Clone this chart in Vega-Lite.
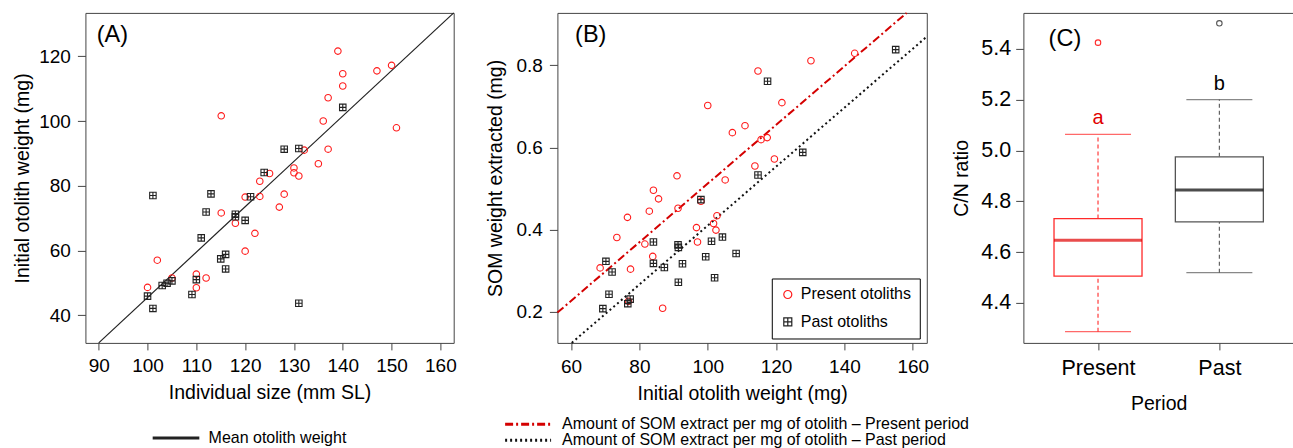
{
  "$schema": "https://vega.github.io/schema/vega-lite/v6.json",
  "padding": {"left": 11.4, "top": 7.9, "right": 0, "bottom": 0},
  "bounds": "flush",
  "spacing": 0,
  "background": "white",
  "config": {
    "font": "Liberation Sans",
    "view": {"stroke": "#444", "strokeWidth": 1},
    "axis": {
      "domain": false, "grid": false, "tickColor": "#444", "tickWidth": 1,
      "labelFont": "Liberation Sans", "labelFontSize": 19, "labelColor": "#000",
      "titleFont": "Liberation Sans", "titleFontSize": 19.5, "titleFontWeight": "normal", "titleColor": "#000",
      "labelFlush": false, "labelOverlap": false
    },
    "legend": {"labelFont": "Liberation Sans", "labelFontSize": 16, "labelColor": "#000", "labelLimit": 600}
  },
  "resolve": {
    "scale": {"color": "independent", "stroke": "independent", "shape": "independent", "strokeDash": "independent", "fill": "independent"},
    "legend": {"color": "independent", "stroke": "independent", "shape": "independent", "strokeDash": "independent", "fill": "independent"}
  },
  "datasets": {
    "a_pts": [
      {"size": 139.0, "weight": 121.6, "otolith": "Present otoliths"},
      {"size": 150.0, "weight": 117.2, "otolith": "Present otoliths"},
      {"size": 147.0, "weight": 115.5, "otolith": "Present otoliths"},
      {"size": 140.0, "weight": 114.6, "otolith": "Present otoliths"},
      {"size": 140.0, "weight": 110.8, "otolith": "Present otoliths"},
      {"size": 137.0, "weight": 107.2, "otolith": "Present otoliths"},
      {"size": 115.1, "weight": 101.6, "otolith": "Present otoliths"},
      {"size": 136.0, "weight": 100.0, "otolith": "Present otoliths"},
      {"size": 151.0, "weight": 97.9, "otolith": "Present otoliths"},
      {"size": 132.1, "weight": 91.0, "otolith": "Present otoliths"},
      {"size": 137.0, "weight": 91.3, "otolith": "Present otoliths"},
      {"size": 135.0, "weight": 86.8, "otolith": "Present otoliths"},
      {"size": 130.0, "weight": 85.5, "otolith": "Present otoliths"},
      {"size": 130.0, "weight": 84.0, "otolith": "Present otoliths"},
      {"size": 131.0, "weight": 83.0, "otolith": "Present otoliths"},
      {"size": 125.0, "weight": 83.8, "otolith": "Present otoliths"},
      {"size": 123.0, "weight": 81.4, "otolith": "Present otoliths"},
      {"size": 128.0, "weight": 77.4, "otolith": "Present otoliths"},
      {"size": 123.0, "weight": 76.7, "otolith": "Present otoliths"},
      {"size": 120.0, "weight": 76.5, "otolith": "Present otoliths"},
      {"size": 127.0, "weight": 73.4, "otolith": "Present otoliths"},
      {"size": 115.1, "weight": 71.6, "otolith": "Present otoliths"},
      {"size": 118.0, "weight": 68.4, "otolith": "Present otoliths"},
      {"size": 122.0, "weight": 65.3, "otolith": "Present otoliths"},
      {"size": 120.0, "weight": 59.8, "otolith": "Present otoliths"},
      {"size": 102.0, "weight": 57.0, "otolith": "Present otoliths"},
      {"size": 110.0, "weight": 52.7, "otolith": "Present otoliths"},
      {"size": 112.0, "weight": 51.5, "otolith": "Present otoliths"},
      {"size": 105.0, "weight": 51.5, "otolith": "Present otoliths"},
      {"size": 100.0, "weight": 48.6, "otolith": "Present otoliths"},
      {"size": 110.0, "weight": 48.5, "otolith": "Present otoliths"},
      {"size": 140.0, "weight": 104.2, "otolith": "Past otoliths"},
      {"size": 128.0, "weight": 91.3, "otolith": "Past otoliths"},
      {"size": 131.0, "weight": 91.5, "otolith": "Past otoliths"},
      {"size": 123.9, "weight": 84.1, "otolith": "Past otoliths"},
      {"size": 101.1, "weight": 77.0, "otolith": "Past otoliths"},
      {"size": 113.0, "weight": 77.5, "otolith": "Past otoliths"},
      {"size": 121.1, "weight": 76.6, "otolith": "Past otoliths"},
      {"size": 112.0, "weight": 71.9, "otolith": "Past otoliths"},
      {"size": 118.0, "weight": 71.2, "otolith": "Past otoliths"},
      {"size": 118.0, "weight": 70.4, "otolith": "Past otoliths"},
      {"size": 120.0, "weight": 69.3, "otolith": "Past otoliths"},
      {"size": 111.0, "weight": 63.9, "otolith": "Past otoliths"},
      {"size": 116.0, "weight": 58.8, "otolith": "Past otoliths"},
      {"size": 115.0, "weight": 57.4, "otolith": "Past otoliths"},
      {"size": 116.0, "weight": 54.3, "otolith": "Past otoliths"},
      {"size": 105.0, "weight": 50.6, "otolith": "Past otoliths"},
      {"size": 104.0, "weight": 49.9, "otolith": "Past otoliths"},
      {"size": 103.0, "weight": 49.2, "otolith": "Past otoliths"},
      {"size": 110.0, "weight": 51.0, "otolith": "Past otoliths"},
      {"size": 100.0, "weight": 45.9, "otolith": "Past otoliths"},
      {"size": 109.1, "weight": 46.4, "otolith": "Past otoliths"},
      {"size": 101.1, "weight": 42.1, "otolith": "Past otoliths"},
      {"size": 131.0, "weight": 43.7, "otolith": "Past otoliths"}
    ],
    "a_line": [
      {"size": 90, "weight": 31.45, "lt": "Mean otolith weight"},
      {"size": 162.73, "weight": 133.4, "lt": "Mean otolith weight"}
    ],
    "b_pts": [
      {"weight": 143.0, "som": 0.829, "otolith": "Present otoliths"},
      {"weight": 130.2, "som": 0.811, "otolith": "Present otoliths"},
      {"weight": 114.7, "som": 0.786, "otolith": "Present otoliths"},
      {"weight": 100.0, "som": 0.702, "otolith": "Present otoliths"},
      {"weight": 121.7, "som": 0.709, "otolith": "Present otoliths"},
      {"weight": 110.9, "som": 0.653, "otolith": "Present otoliths"},
      {"weight": 107.2, "som": 0.636, "otolith": "Present otoliths"},
      {"weight": 115.6, "som": 0.619, "otolith": "Present otoliths"},
      {"weight": 117.4, "som": 0.624, "otolith": "Present otoliths"},
      {"weight": 119.5, "som": 0.572, "otolith": "Present otoliths"},
      {"weight": 113.8, "som": 0.555, "otolith": "Present otoliths"},
      {"weight": 91.0, "som": 0.531, "otolith": "Present otoliths"},
      {"weight": 105.1, "som": 0.521, "otolith": "Present otoliths"},
      {"weight": 84.1, "som": 0.496, "otolith": "Present otoliths"},
      {"weight": 85.6, "som": 0.475, "otolith": "Present otoliths"},
      {"weight": 82.9, "som": 0.445, "otolith": "Present otoliths"},
      {"weight": 91.3, "som": 0.452, "otolith": "Present otoliths"},
      {"weight": 98.0, "som": 0.469, "otolith": "Present otoliths"},
      {"weight": 76.5, "som": 0.430, "otolith": "Present otoliths"},
      {"weight": 102.7, "som": 0.434, "otolith": "Present otoliths"},
      {"weight": 101.7, "som": 0.415, "otolith": "Present otoliths"},
      {"weight": 96.7, "som": 0.405, "otolith": "Present otoliths"},
      {"weight": 102.4, "som": 0.399, "otolith": "Present otoliths"},
      {"weight": 73.4, "som": 0.381, "otolith": "Present otoliths"},
      {"weight": 81.6, "som": 0.365, "otolith": "Present otoliths"},
      {"weight": 97.0, "som": 0.370, "otolith": "Present otoliths"},
      {"weight": 83.9, "som": 0.335, "otolith": "Present otoliths"},
      {"weight": 68.5, "som": 0.307, "otolith": "Present otoliths"},
      {"weight": 77.4, "som": 0.304, "otolith": "Present otoliths"},
      {"weight": 76.8, "som": 0.226, "otolith": "Present otoliths"},
      {"weight": 86.8, "som": 0.209, "otolith": "Present otoliths"},
      {"weight": 155.0, "som": 0.838, "otolith": "Past otoliths"},
      {"weight": 117.5, "som": 0.761, "otolith": "Past otoliths"},
      {"weight": 127.8, "som": 0.588, "otolith": "Past otoliths"},
      {"weight": 114.7, "som": 0.533, "otolith": "Past otoliths"},
      {"weight": 98.0, "som": 0.473, "otolith": "Past otoliths"},
      {"weight": 84.1, "som": 0.370, "otolith": "Past otoliths"},
      {"weight": 91.3, "som": 0.363, "otolith": "Past otoliths"},
      {"weight": 91.4, "som": 0.357, "otolith": "Past otoliths"},
      {"weight": 101.1, "som": 0.372, "otolith": "Past otoliths"},
      {"weight": 104.3, "som": 0.382, "otolith": "Past otoliths"},
      {"weight": 108.3, "som": 0.342, "otolith": "Past otoliths"},
      {"weight": 99.4, "som": 0.334, "otolith": "Past otoliths"},
      {"weight": 92.6, "som": 0.317, "otolith": "Past otoliths"},
      {"weight": 84.1, "som": 0.318, "otolith": "Past otoliths"},
      {"weight": 87.3, "som": 0.308, "otolith": "Past otoliths"},
      {"weight": 70.2, "som": 0.323, "otolith": "Past otoliths"},
      {"weight": 72.0, "som": 0.297, "otolith": "Past otoliths"},
      {"weight": 102.0, "som": 0.283, "otolith": "Past otoliths"},
      {"weight": 91.4, "som": 0.272, "otolith": "Past otoliths"},
      {"weight": 71.1, "som": 0.243, "otolith": "Past otoliths"},
      {"weight": 77.3, "som": 0.231, "otolith": "Past otoliths"},
      {"weight": 76.6, "som": 0.220, "otolith": "Past otoliths"},
      {"weight": 69.3, "som": 0.208, "otolith": "Past otoliths"}
    ],
    "b_lines": [
      {"weight": 56.0, "som": 0.1983, "reg": "Amount of SOM extract per mg of otolith – Present period"},
      {"weight": 158.2, "som": 0.9273, "reg": "Amount of SOM extract per mg of otolith – Present period"},
      {"weight": 60.2, "som": 0.1246, "reg": "Amount of SOM extract per mg of otolith – Past period"},
      {"weight": 164.1, "som": 0.8696, "reg": "Amount of SOM extract per mg of otolith – Past period"}
    ],
    "c_stats": [
      {"period": "Present", "lower": 4.287, "q1": 4.506, "median": 4.647, "q3": 4.732, "upper": 5.063, "letter": "a"},
      {"period": "Past", "lower": 4.519, "q1": 4.719, "median": 4.844, "q3": 4.975, "upper": 5.2, "letter": "b"}
    ],
    "c_out": [
      {"period": "Present", "value": 5.424},
      {"period": "Past", "value": 5.50}
    ]
  },
  "hconcat": [
    {
      "width": 368.3, "height": 330,
      "layer": [
        {
          "data": {"name": "a_line"},
          "mark": {"type": "line", "strokeWidth": 1.2},
          "encoding": {
            "x": {"field": "size", "type": "quantitative", "scale": {"domain": [87.27, 162.73], "nice": false, "zero": false},
                  "axis": {"values": [90, 100, 110, 120, 130, 140, 150, 160], "title": "Individual size (mm SL)", "tickSize": 7, "labelBaseline": "alphabetic", "labelPadding": 21.6, "titleY": 55.8, "titleBaseline": "alphabetic"}},
            "y": {"field": "weight", "type": "quantitative", "scale": {"domain": [31.45, 133.4], "nice": false, "zero": false},
                  "axis": {"values": [40, 60, 80, 100, 120], "title": "Initial otolith weight (mg)", "tickSize": 8, "labelPadding": 7, "titleX": -57, "titleBaseline": "alphabetic"}},
            "color": {"field": "lt", "type": "nominal", "scale": {"range": ["#222"]},
                      "legend": {"title": null, "orient": "none", "legendX": 82.6, "legendY": 417, "padding": 0, "symbolType": "M-4,0H4", "symbolSize": 136, "symbolStrokeWidth": 3, "labelOffset": 24.6, "labelFontSize": 16}}
          }
        },
        {
          "data": {"name": "a_pts"},
          "mark": {"type": "point", "filled": false, "size": 42, "strokeWidth": 1.1, "opacity": 1},
          "encoding": {
            "x": {"field": "size", "type": "quantitative"},
            "y": {"field": "weight", "type": "quantitative"},
            "stroke": {"field": "otolith", "type": "nominal", "scale": {"domain": ["Present otoliths", "Past otoliths"], "range": ["#ff1a1a", "#222"]}, "legend": null},
            "shape": {"field": "otolith", "type": "nominal", "scale": {"domain": ["Present otoliths", "Past otoliths"], "range": ["circle", "M-1,-1H1V1H-1Z M0,-1V1 M-1,0H1"]}, "legend": null}
          }
        },
        {
          "data": {"values": [{"label": "(A)"}]},
          "mark": {"type": "text", "align": "left", "baseline": "alphabetic", "fontSize": 23.5, "color": "#000"},
          "encoding": {
            "x": {"datum": 89.6, "type": "quantitative"},
            "y": {"datum": 124.35, "type": "quantitative"},
            "text": {"field": "label"}
          }
        }
      ]
    },
    {
      "width": 103, "height": 330,
      "view": {"stroke": null},
      "data": {"values": []},
      "mark": {"type": "point", "opacity": 0}
    },
    {
      "width": 369.4, "height": 330,
      "layer": [
        {
          "data": {"name": "b_lines"},
          "mark": {"type": "line", "strokeWidth": 2},
          "encoding": {
            "x": {"field": "weight", "type": "quantitative", "scale": {"domain": [56.0, 164.1], "nice": false, "zero": false},
                  "axis": {"values": [60, 80, 100, 120, 140, 160], "title": "Initial otolith weight (mg)", "tickSize": 7, "labelBaseline": "alphabetic", "labelPadding": 22.3, "titleY": 57, "titleBaseline": "alphabetic"}},
            "y": {"field": "som", "type": "quantitative", "scale": {"domain": [0.1246, 0.9273], "nice": false, "zero": false},
                  "axis": {"values": [0.2, 0.4, 0.6, 0.8], "format": ".1f", "title": "SOM weight extracted (mg)", "tickSize": 8, "labelPadding": 7, "titleX": -56, "titleBaseline": "alphabetic"}},
            "color": {"field": "reg", "type": "nominal",
                      "scale": {"domain": ["Amount of SOM extract per mg of otolith – Present period", "Amount of SOM extract per mg of otolith – Past period"], "range": ["#d40000", "#111"]},
                      "legend": {"title": null, "orient": "none", "legendX": -37.3, "legendY": 403.3, "padding": 0, "symbolType": "M-4,0H4", "symbolSize": 132, "symbolStrokeWidth": 3, "labelOffset": 26, "rowPadding": -1.7, "labelFontSize": 16}},
            "strokeDash": {"field": "reg", "type": "nominal",
                      "scale": {"domain": ["Amount of SOM extract per mg of otolith – Present period", "Amount of SOM extract per mg of otolith – Past period"], "range": [[8, 3, 2, 3], [2, 3]]},
                      "legend": {"title": null, "orient": "none", "legendX": -37.3, "legendY": 403.3, "padding": 0, "symbolType": "M-4,0H4", "symbolSize": 132, "symbolStrokeWidth": 3, "labelOffset": 26, "rowPadding": -1.7, "labelFontSize": 16}}
          }
        },
        {
          "data": {"name": "b_pts"},
          "mark": {"type": "point", "filled": false, "size": 42, "strokeWidth": 1.1, "opacity": 1},
          "encoding": {
            "x": {"field": "weight", "type": "quantitative"},
            "y": {"field": "som", "type": "quantitative"},
            "stroke": {"field": "otolith", "type": "nominal", "scale": {"domain": ["Present otoliths", "Past otoliths"], "range": ["#ff1a1a", "#222"]},
                       "legend": {"title": null, "orient": "none", "legendX": 214.4, "legendY": 265.6, "padding": 8, "strokeColor": "#000", "fillColor": "#fff", "symbolSize": 64, "symbolStrokeWidth": 1.2, "labelOffset": 5, "rowPadding": 11.4, "labelFontSize": 16}},
            "shape": {"field": "otolith", "type": "nominal", "scale": {"domain": ["Present otoliths", "Past otoliths"], "range": ["circle", "M-1,-1H1V1H-1Z M0,-1V1 M-1,0H1"]},
                       "legend": {"title": null, "orient": "none", "legendX": 214.4, "legendY": 265.6, "padding": 8, "strokeColor": "#000", "fillColor": "#fff", "symbolSize": 64, "symbolStrokeWidth": 1.2, "labelOffset": 5, "rowPadding": 11.4, "labelFontSize": 16}}
          }
        },
        {
          "data": {"values": [{"label": "(B)"}]},
          "mark": {"type": "text", "align": "left", "baseline": "alphabetic", "fontSize": 23.5, "color": "#000"},
          "encoding": {
            "x": {"datum": 61.18, "type": "quantitative"},
            "y": {"datum": 0.856, "type": "quantitative"},
            "text": {"field": "label"}
          }
        }
      ]
    },
    {
      "width": 96, "height": 330,
      "view": {"stroke": null},
      "data": {"values": []},
      "mark": {"type": "point", "opacity": 0}
    },
    {
      "width": 270.6, "height": 330,
      "layer": [
        {
          "data": {"name": "c_stats"},
          "mark": {"type": "rule", "strokeDash": [4, 3], "strokeWidth": 1.1},
          "encoding": {
            "x": {"field": "period", "type": "nominal", "scale": {"type": "point", "domain": ["Present", "Past"], "padding": 0.615},
                  "axis": {"title": "Period", "labelAngle": 0, "labelFontSize": 21.5, "tickSize": 7, "labelBaseline": "alphabetic", "labelPadding": 24.7, "titleY": 67, "titleBaseline": "alphabetic"}},
            "y": {"field": "q3", "type": "quantitative", "title": "C/N ratio", "scale": {"domain": [4.243, 5.541], "nice": false, "zero": false},
                  "axis": {"values": [4.4, 4.6, 4.8, 5.0, 5.2, 5.4], "format": ".1f", "labelFontSize": 21.5, "tickSize": 7.7, "labelPadding": 5, "titleX": -55.7, "titleBaseline": "alphabetic"}},
            "y2": {"field": "upper"},
            "color": {"field": "period", "type": "nominal", "scale": {"domain": ["Present", "Past"], "range": ["#ff2a2a", "#555"]}, "legend": null}
          }
        },
        {
          "data": {"name": "c_stats"},
          "mark": {"type": "rule", "strokeDash": [4, 3], "strokeWidth": 1.1},
          "encoding": {
            "x": {"field": "period", "type": "nominal"},
            "y": {"field": "lower", "type": "quantitative", "title": "C/N ratio"},
            "y2": {"field": "q1"},
            "color": {"field": "period", "type": "nominal", "legend": null}
          }
        },
        {
          "data": {"name": "c_stats"},
          "mark": {"type": "bar", "size": 88, "fill": "white", "strokeWidth": 1.3},
          "encoding": {
            "x": {"field": "period", "type": "nominal"},
            "y": {"field": "q1", "type": "quantitative", "title": "C/N ratio"},
            "y2": {"field": "q3"},
            "stroke": {"field": "period", "type": "nominal", "scale": {"domain": ["Present", "Past"], "range": ["#ff2a2a", "#555"]}, "legend": null}
          }
        },
        {
          "data": {"name": "c_stats"},
          "mark": {"type": "tick", "size": 66, "thickness": 1.3},
          "encoding": {
            "x": {"field": "period", "type": "nominal"},
            "y": {"field": "upper", "type": "quantitative", "title": "C/N ratio"},
            "color": {"field": "period", "type": "nominal", "legend": null}
          }
        },
        {
          "data": {"name": "c_stats"},
          "mark": {"type": "tick", "size": 66, "thickness": 1.3},
          "encoding": {
            "x": {"field": "period", "type": "nominal"},
            "y": {"field": "lower", "type": "quantitative", "title": "C/N ratio"},
            "color": {"field": "period", "type": "nominal", "legend": null}
          }
        },
        {
          "data": {"name": "c_stats"},
          "mark": {"type": "tick", "size": 88, "thickness": 3},
          "encoding": {
            "x": {"field": "period", "type": "nominal"},
            "y": {"field": "median", "type": "quantitative", "title": "C/N ratio"},
            "fill": {"field": "period", "type": "nominal", "scale": {"domain": ["Present", "Past"], "range": ["#e00000", "#000"]}, "legend": null}
          }
        },
        {
          "data": {"name": "c_out"},
          "mark": {"type": "point", "filled": false, "size": 30, "strokeWidth": 1.1, "opacity": 1},
          "encoding": {
            "x": {"field": "period", "type": "nominal"},
            "y": {"field": "value", "type": "quantitative", "title": "C/N ratio"},
            "color": {"field": "period", "type": "nominal", "legend": null}
          }
        },
        {
          "data": {"name": "c_stats"},
          "mark": {"type": "text", "dy": -10, "fontSize": 20, "baseline": "alphabetic", "font": "Liberation Sans"},
          "encoding": {
            "x": {"field": "period", "type": "nominal"},
            "y": {"field": "upper", "type": "quantitative", "title": "C/N ratio"},
            "text": {"field": "letter"},
            "fill": {"field": "period", "type": "nominal", "legend": null}
          }
        },
        {
          "data": {"values": [{"label": "(C)"}]},
          "mark": {"type": "text", "align": "left", "baseline": "alphabetic", "fontSize": 23.5, "color": "#000", "dx": -49.4},
          "encoding": {
            "x": {"datum": "Present", "type": "nominal"},
            "y": {"datum": 5.41, "type": "quantitative", "title": "C/N ratio"},
            "text": {"field": "label"}
          }
        }
      ]
    }
  ]
}
